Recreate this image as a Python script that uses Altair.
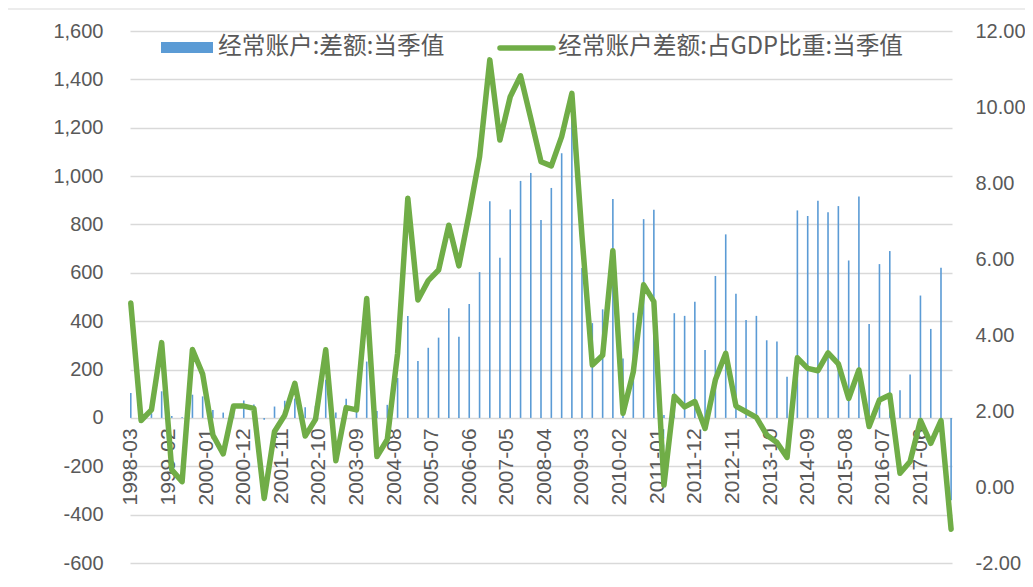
import altair as alt
import pandas as pd

QUARTERS = [
    "1998-03", "1998-06", "1998-09", "1998-12",
    "1999-03", "1999-06", "1999-09", "1999-12",
    "2000-03", "2000-06", "2000-09", "2000-12",
    "2001-03", "2001-06", "2001-09", "2001-12",
    "2002-03", "2002-06", "2002-09", "2002-12",
    "2003-03", "2003-06", "2003-09", "2003-12",
    "2004-03", "2004-06", "2004-09", "2004-12",
    "2005-03", "2005-06", "2005-09", "2005-12",
    "2006-03", "2006-06", "2006-09", "2006-12",
    "2007-03", "2007-06", "2007-09", "2007-12",
    "2008-03", "2008-06", "2008-09", "2008-12",
    "2009-03", "2009-06", "2009-09", "2009-12",
    "2010-03", "2010-06", "2010-09", "2010-12",
    "2011-03", "2011-06", "2011-09", "2011-12",
    "2012-03", "2012-06", "2012-09", "2012-12",
    "2013-03", "2013-06", "2013-09", "2013-12",
    "2014-03", "2014-06", "2014-09", "2014-12",
    "2015-03", "2015-06", "2015-09", "2015-12",
    "2016-03", "2016-06", "2016-09", "2016-12",
    "2017-03", "2017-06", "2017-09", "2017-12",
    "2018-03",
]

# 经常账户:差额:当季值 (亿美元)
CA_BALANCE = [
    103, 8, 19, 110,
    8, 3, 96, 89,
    33, 22, 40, 72,
    55, -8, 47, 71,
    80, 44, 50, 158,
    22, 79, 65, 233,
    29, 54, 165, 421,
    235, 290, 332, 453,
    336, 471, 603, 896,
    662, 862, 980, 1013,
    818, 951, 1094, 1300,
    620, 392, 449, 905,
    246, 435, 822, 861,
    12, 433, 422, 480,
    281, 587, 759, 513,
    405, 422, 321, 316,
    170, 858, 835, 898,
    850, 876, 651, 916,
    388, 636, 690, 114,
    179, 506, 368, 621,
    -341,
]

# 经常账户差额:占GDP比重:当季值 (%)
CA_GDP_RATIO = [
    4.84, 1.75, 2.03, 3.80,
    0.45, 0.14, 3.62, 2.97,
    1.37, 0.87, 2.13, 2.13,
    2.07, -0.30, 1.46, 1.89,
    2.73, 1.34, 1.78, 3.61,
    0.69, 2.09, 2.03, 4.96,
    0.80, 1.25, 3.52, 7.60,
    4.92, 5.43, 5.71, 6.89,
    5.82, 7.20, 8.69, 11.24,
    9.13, 10.27, 10.82, 9.70,
    8.56, 8.45, 9.22, 10.36,
    6.60, 3.21, 3.47, 6.22,
    1.94, 3.03, 5.32, 4.88,
    0.05, 2.39, 2.11, 2.25,
    1.54, 2.82, 3.52, 2.13,
    1.98, 1.83, 1.37, 1.17,
    0.78, 3.40, 3.12, 3.06,
    3.53, 3.24, 2.33, 3.08,
    1.59, 2.29, 2.42, 0.36,
    0.67, 1.75, 1.15, 1.75,
    -1.11,
]

X_TICK_LABELS = [
    "1998-03", "1999-02", "2000-01", "2000-12", "2001-11", "2002-10",
    "2003-09", "2004-08", "2005-07", "2006-06", "2007-05", "2008-04",
    "2009-03", "2010-02", "2011-01", "2011-12", "2012-11", "2013-10",
    "2014-09", "2015-08", "2016-07", "2017-06",
]

LEFT_TICKS = [-600, -400, -200, 0, 200, 400, 600, 800, 1000, 1200, 1400, 1600]
RIGHT_TICKS = [-2, 0, 2, 4, 6, 8, 10, 12]

SERIES_BAR = "经常账户:差额:当季值"
SERIES_LINE = "经常账户差额:占GDP比重:当季值"

BLUE = "#5B9BD5"
GREEN = "#70AD47"
GRID = "#D9D9D9"
TEXT = "#595959"


def ym(s, day=1):
    y, m = s.split("-")
    return alt.DateTime(year=int(y), month=int(m), date=day, utc=True)


df = pd.DataFrame({
    "date": [q + "-01" for q in QUARTERS],
    "ca": CA_BALANCE,
    "ratio": CA_GDP_RATIO,
})

W, H = 822, 532
ZERO_Y = H * 1600 / 2200.0

x_enc = alt.X(
    "date:T",
    scale=alt.Scale(type="utc", padding=0,
                    domain=[ym("1998-02", 22), ym("2018-03", 9)]),
    axis=alt.Axis(
        values=[ym(s) for s in X_TICK_LABELS],
        labelExpr="utcFormat(datum.value, '%Y-%m')",
        labelAngle=270,
        labelFontSize=21,
        labelFont="Liberation Sans",
        labelColor=TEXT,
        labelPadding=10,
        labelOverlap=False,
        labelFlush=False,
        labelBound=False,
        labelSeparation=0,
        domain=False,
        ticks=False,
        grid=False,
        offset=ZERO_Y - H,
        title=None,
    ),
)

bars = alt.Chart(df).mark_bar(size=1.6, color=BLUE).encode(
    x=x_enc,
    y=alt.Y(
        "ca:Q",
        scale=alt.Scale(domain=[-600, 1600], nice=False),
        axis=alt.Axis(
            values=LEFT_TICKS,
            labelExpr="replace(format(datum.value, ','), '\u2212', '-')",
            grid=True,
            gridColor=GRID,
            gridWidth=1.5,
            domain=False,
            ticks=False,
            labelFontSize=20,
            labelFont="Liberation Sans",
            labelColor=TEXT,
            labelPadding=27,
            title=None,
        ),
    ),
)

line = alt.Chart(df).mark_line(
    color=GREEN, strokeWidth=5.5, strokeJoin="round", strokeCap="round"
).encode(
    x=x_enc,
    y=alt.Y(
        "ratio:Q",
        scale=alt.Scale(domain=[-2, 12], nice=False),
        axis=alt.Axis(
            orient="right",
            values=RIGHT_TICKS,
            labelExpr="replace(format(datum.value, '.2f'), '\u2212', '-')",
            grid=False,
            domain=False,
            ticks=False,
            labelFontSize=20,
            labelFont="Liberation Sans",
            labelColor=TEXT,
            labelPadding=23,
            title=None,
        ),
    ),
)

one = pd.DataFrame({"k": [0]})

top_border = alt.Chart(one).mark_rule(color=GRID, strokeWidth=1).encode(
    x=alt.value(-122), x2=alt.value(895), y=alt.value(-22)
)

leg_rect = alt.Chart(one).mark_rect(color=BLUE).encode(
    x=alt.value(31), x2=alt.value(83), y=alt.value(11), y2=alt.value(22)
)
leg_text1 = alt.Chart(one).mark_text(
    align="left", baseline="middle", fontSize=23.7, font="Noto Sans CJK SC",
    color=TEXT, text=SERIES_BAR,
).encode(x=alt.value(88), y=alt.value(16))

leg_line = alt.Chart(one).mark_rule(
    color=GREEN, strokeWidth=5.5, strokeCap="round"
).encode(x=alt.value(370), x2=alt.value(423), y=alt.value(17))
leg_text2 = alt.Chart(one).mark_text(
    align="left", baseline="middle", fontSize=23.7, font="Noto Sans CJK SC",
    color=TEXT, text=SERIES_LINE,
).encode(x=alt.value(428), y=alt.value(16))

chart = alt.layer(
    bars, line, top_border, leg_rect, leg_text1, leg_line, leg_text2
).resolve_scale(
    y="independent"
).properties(
    width=W,
    height=H,
    padding={"left": 122, "top": 23, "right": 73, "bottom": 10},
    autosize=alt.AutoSizeParams(type="none"),
    background="white",
).configure_view(strokeWidth=0)

chart.save("out.html", embed_options={"renderer": "svg", "actions": False})
